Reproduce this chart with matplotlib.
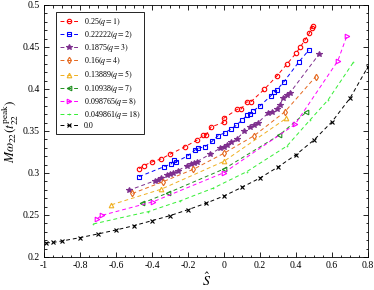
import matplotlib
matplotlib.use("Agg")
import matplotlib.pyplot as plt
from matplotlib.ticker import MultipleLocator, FuncFormatter

plt.rcParams['font.family'] = ['Liberation Serif', 'DejaVu Serif']
plt.rcParams['mathtext.fontset'] = 'stix'

labels = ["0.25$(q=1)$", "0.22222$(q=2)$", "0.1875$(q=3)$", "0.16$(q=4)$",
          "0.13889$(q=5)$", "0.10938$(q=7)$", "0.098765$(q=8)$",
          "0.049861$(q=18)$", "0.0"]

s_q1 = [-0.472, -0.447, -0.400, -0.350, -0.300, -0.219, -0.148, -0.117, -0.100, -0.072,
        -0.003, -0.003, 0.074, 0.094, 0.125, 0.148, 0.224, 0.294, 0.348, 0.400,
        0.422, 0.448, 0.474, 0.487, 0.493]
w_q1 = [0.3051, 0.3087, 0.3131, 0.3167, 0.3223, 0.3310, 0.3393, 0.3446, 0.3449, 0.3548,
        0.3601, 0.3649, 0.3758, 0.3758, 0.3845, 0.3845, 0.3996, 0.4155, 0.4292, 0.4425,
        0.4494, 0.4577, 0.4663, 0.4723, 0.4744]

s_q2 = [-0.472, -0.333, -0.294, -0.281, -0.267, -0.200, -0.164, -0.147, -0.106, -0.067,
        -0.033, 0.003, 0.039, 0.067, 0.100, 0.128, 0.144, 0.161, 0.197, 0.261,
        0.278, 0.294, 0.333, 0.417, 0.472]
w_q2 = [0.2956, 0.3075, 0.3107, 0.3149, 0.3131, 0.3206, 0.3270, 0.3292, 0.3313, 0.3375,
        0.3444, 0.3476, 0.3524, 0.3565, 0.3631, 0.3685, 0.3702, 0.3738, 0.3792, 0.3920,
        0.3964, 0.3988, 0.4087, 0.4325, 0.4464]

s_q3 = [-0.531, -0.383, -0.367, -0.350, -0.318, -0.300, -0.282, -0.258, -0.207, -0.183,
        -0.167, -0.150, -0.078, -0.022, -0.003, 0.018, 0.039, 0.072, 0.111, 0.144,
        0.167, 0.189, 0.244, 0.264, 0.292, 0.311, 0.328, 0.348, 0.367, 0.529]
w_q3 = [0.2792, 0.2908, 0.2917, 0.2937, 0.2970, 0.2985, 0.3002, 0.3026, 0.3086, 0.3111,
        0.3123, 0.3135, 0.3223, 0.3294, 0.3313, 0.3333, 0.3365, 0.3405, 0.3494, 0.3544,
        0.3568, 0.3599, 0.3711, 0.3730, 0.3758, 0.3810, 0.3893, 0.3929, 0.3956, 0.4417]

s_q4 = [-0.509, -0.339, -0.170, 0.000, 0.167, 0.339, 0.509]
w_q4 = [0.2756, 0.2896, 0.3044, 0.3235, 0.3443, 0.3730, 0.4146]

s_q5 = [-0.626, -0.350, 0.000, 0.346]
w_q5 = [0.2621, 0.2806, 0.3139, 0.3651]

s_q7 = [-0.456, -0.309, 0.000, 0.308, 0.457]
w_q7 = [0.2639, 0.2765, 0.3048, 0.3452, 0.3723]

s_q8 = [-0.707, -0.681, -0.393, 0.000, 0.394, 0.632, 0.683]
w_q8 = [0.2452, 0.2494, 0.2658, 0.3004, 0.3577, 0.4333, 0.4635]

s_q18 = [-0.726, -0.422, -0.244, -0.061, 0.126, 0.350, 0.478, 0.578, 0.718]
w_q18 = [0.2393, 0.2539, 0.2667, 0.2818, 0.3015, 0.3321, 0.3631, 0.3869, 0.4315]

s_q0 = [-0.99, -0.95, -0.9, -0.8, -0.7, -0.6, -0.5, -0.4, -0.3, -0.2, -0.1, 0.0,
        0.1, 0.2, 0.3, 0.4, 0.5, 0.6, 0.7, 0.8]
w_q0 = [0.2167, 0.2173, 0.2190, 0.2230, 0.2274, 0.2321, 0.2373, 0.2432, 0.2492, 0.2563,
        0.2640, 0.2726, 0.2830, 0.2940, 0.3071, 0.3217, 0.3393, 0.3610, 0.3890, 0.4265]

series = [
    (s_q1, w_q1, '#ff0000', 'o', 'none', 3.2),
    (s_q2, w_q2, '#0000ff', 's', 'none', 2.8),
    (s_q3, w_q3, '#7e2f8e', '*', '#7e2f8e', 3.8),
    (s_q4, w_q4, '#e5681e', 'd', 'none', 3.3),
    (s_q5, w_q5, '#f0b020', '^', 'none', 3.3),
    (s_q7, w_q7, '#1f8f1f', '<', 'none', 3.3),
    (s_q8, w_q8, '#ff00ff', '>', 'none', 3.3),
    (s_q18, w_q18, '#33ee33', '.', '#33ee33', 0.8),
    (s_q0, w_q0, '#000000', 'x', '#000000', 2.5),
]

fig = plt.figure(figsize=(3.74, 2.90), dpi=100)
ax = fig.add_axes([0.118, 0.114, 0.866, 0.869])

for (s, w, c, m, mfc, ms), lab in zip(series, labels):
    order = sorted(range(len(s)), key=lambda i: s[i])
    xs = [s[i] for i in order]
    ys = [w[i] for i in order]
    ax.plot(xs, ys, color=c, marker=m, mfc=mfc, mec=c, ms=ms, mew=0.8,
            lw=0.7, dashes=(4, 3), label=lab)

ax.set_xlim(-1, 0.8)
ax.set_ylim(0.2, 0.5)
ax.xaxis.set_major_locator(MultipleLocator(0.2))
ax.xaxis.set_minor_locator(MultipleLocator(0.05))
ax.yaxis.set_major_locator(MultipleLocator(0.05))
ax.yaxis.set_minor_locator(MultipleLocator(0.01))
fmt = FuncFormatter(lambda v, p: ("%g" % round(v, 4)))
ax.xaxis.set_major_formatter(fmt)
ax.yaxis.set_major_formatter(fmt)
ax.tick_params(which='both', direction='in', top=True, right=True, labelsize=7, width=0.6, pad=3)
ax.tick_params(which='major', length=3.5)
ax.tick_params(which='minor', length=1.8)
for sp in ax.spines.values():
    sp.set_linewidth(0.6)

ax.set_xlabel(r'$\hat{S}$', fontsize=10, labelpad=1)
ax.set_ylabel(r'$M\omega_{22}(t_{22}^{\rm peak})$', fontsize=9.5, labelpad=1)

leg = ax.legend(loc='upper left', bbox_to_anchor=(0.024, 0.988), fontsize=5.8, handlelength=2.4,
                labelspacing=0.15, borderpad=0.45, handletextpad=0.6, fancybox=False,
                framealpha=1, edgecolor='black')
leg.get_frame().set_linewidth(0.6)

fig.savefig('out.png', dpi=100)
